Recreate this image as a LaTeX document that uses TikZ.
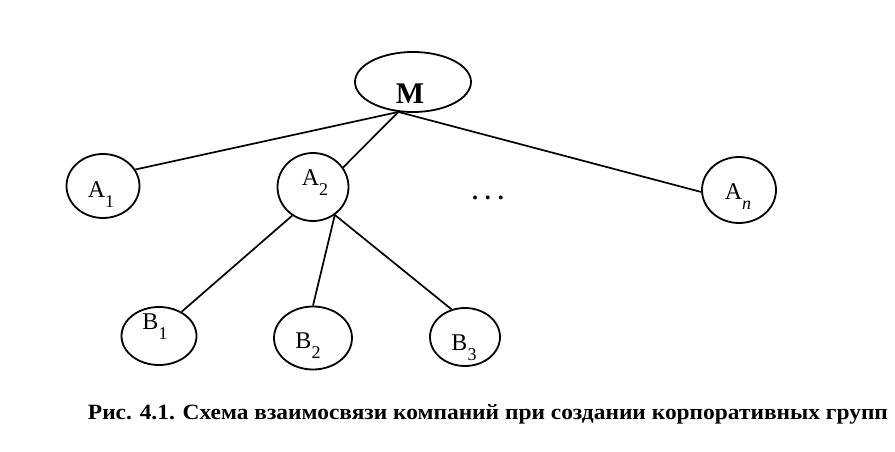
\documentclass[tikz,border=0pt]{standalone}
\usepackage{fontspec}
\setmainfont{Liberation Serif}
\usetikzlibrary{shapes.geometric}

\newcommand{\lowidx}[1]{\raisebox{-10pt}{\fontsize{18}{18}\selectfont #1}}

\begin{document}
\begin{tikzpicture}
	[x=1pt,y=-1pt,
	firm/.style={ellipse, draw, line width=1.8pt, inner sep=0pt},
	tag/.style={font=\fontsize{24}{24}\selectfont, anchor=base},
	link/.style={line width=1.7pt}]

\useasboundingbox (0,0) rectangle (895,452);

\node [firm, minimum width=116pt, minimum height=60pt] (M) at (413,82) {};
\node [firm, minimum width=73pt, minimum height=64pt] (A1) at (103,186) {};
\node [firm, minimum width=71pt, minimum height=68pt] (A2) at (313,187) {};
\node [firm, minimum width=74pt, minimum height=66pt] (An) at (739,190) {};
\node [firm, minimum width=75pt, minimum height=58pt] (B1) at (159,336) {};
\node [firm, minimum width=78pt, minimum height=63pt] (B2) at (313,338) {};
\node [firm, minimum width=70pt, minimum height=58pt] (B3) at (465,337) {};

% names, placed on their baselines
\node [tag, font=\fontsize{30}{30}\selectfont\bfseries] (M-tag) at ([shift={(-3,21)}]M.center) {M};
\node [tag] (A1-tag) at ([shift={(-2,11)}]A1.center) {A\lowidx{1}};
\node [tag] (A2-tag) at ([shift={(2,-2)}]A2.center) {A\lowidx{2}};
\node [tag] (An-tag) at ([shift={(-1,9)}]An.center) {A\lowidx{\itshape n}};
\node [tag] (B1-tag) at ([shift={(-4,-7)}]B1.center) {B\lowidx{1}};
\node [tag] (B2-tag) at ([shift={(-5,10)}]B2.center) {B\lowidx{2}};
\node [tag] (B3-tag) at ([shift={(-1,13)}]B3.center) {B\lowidx{3}};
\node [tag, font=\fontsize{24}{24}\selectfont\bfseries] (dots) at (488,199) {.\hspace{7pt}.\hspace{7pt}.};

\coordinate (hub) at (M.244);
\draw [link] (hub) -- (A1.27);
\draw [link] (hub) -- (A2.33);
\draw [link] (hub) -- (An.183);
\draw [link] (A2.234) -- (B1.47);
\draw [link] (A2.308) -- (B2.north);
\draw [link] (A2.308) -- (B3.116);

\node [anchor=base] (caption) at (488,419) {\resizebox{800pt}{15pt}{\bfseries Рис. 4.1. Схема взаимосвязи компаний при создании корпоративных групп}};

\end{tikzpicture}
\end{document}
